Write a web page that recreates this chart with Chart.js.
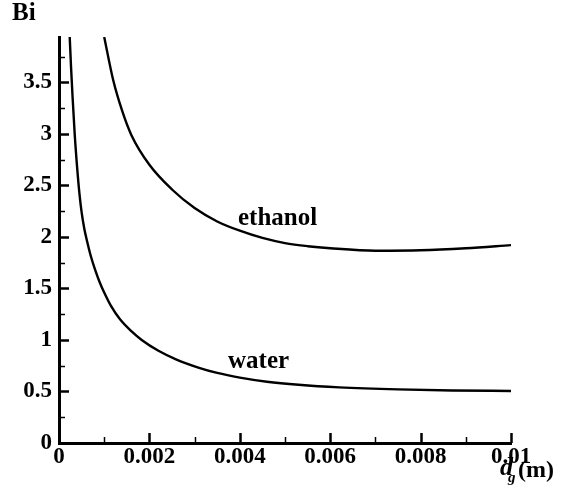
<!DOCTYPE html>
<html>
<head>
<meta charset="utf-8">
<script src="https://cdn.jsdelivr.net/npm/chart.js@4.4.1/dist/chart.umd.min.js"></script>
<style>
  html, body { margin: 0; padding: 0; background: #fff; }
  #wrap { width: 565px; height: 501px; }
</style>
</head>
<body>
<div id="wrap"><canvas id="biChart"></canvas></div>
<script>
// droplet diameter (m) vs Biot number
const waterDg = [0.000237, 0.000265, 0.00030, 0.000347, 0.00040, 0.00045, 0.00050, 0.00056, 0.00062, 0.00070,
                 0.00080, 0.00090, 0.00100, 0.00115, 0.00135, 0.00160, 0.00183, 0.0022, 0.0026, 0.0031,
                 0.0035, 0.0040, 0.0046, 0.0053, 0.0062, 0.0075, 0.0087, 0.0100];
const waterBi = [3.94, 3.66, 3.36, 3.0, 2.68, 2.43, 2.24, 2.08, 1.96, 1.82,
                 1.68, 1.56, 1.46, 1.33, 1.20, 1.085, 1.0, 0.895, 0.81, 0.73,
                 0.68, 0.635, 0.595, 0.565, 0.54, 0.52, 0.51, 0.505];

const ethanolDg = [0.00100, 0.00120, 0.00140, 0.00160, 0.00200, 0.00250, 0.00300, 0.00350, 0.00400, 0.00450,
                   0.00500, 0.00550, 0.00600, 0.00700, 0.00800, 0.00900, 0.01000];
const ethanolBi = [3.94, 3.52, 3.22, 2.99, 2.70, 2.46, 2.28, 2.15, 2.06, 1.99,
                   1.94, 1.91, 1.89, 1.866, 1.87, 1.89, 1.92];

const xTicks = [0, 0.002, 0.004, 0.006, 0.008, 0.01];
const xTickLabels = ['0', '0.002', '0.004', '0.006', '0.008', '0.01'];
const xMinor = [0.001, 0.003, 0.005, 0.007, 0.009];
const yTicks = [0, 0.5, 1, 1.5, 2, 2.5, 3, 3.5];
const yTickLabels = ['0', '0.5', '1', '1.5', '2', '2.5', '3', '3.5'];
const yMinor = [0.25, 0.75, 1.25, 1.75, 2.25, 2.75, 3.25, 3.75];

const FONT = 'Liberation Serif, Times New Roman, serif';

function toPoints(xs, ys) {
  return xs.map((x, i) => ({ x: x, y: ys[i] }));
}

// inward tick marks + annotations
const decorations = {
  id: 'decorations',
  afterDraw(chart) {
    const ctx = chart.ctx;
    const xs = chart.scales.x, ys = chart.scales.y;
    const area = chart.chartArea;
    ctx.save();
    ctx.strokeStyle = '#000';
    ctx.lineCap = 'butt';

    const tickX = (vals, len, w) => {
      ctx.lineWidth = w;
      vals.forEach(v => {
        const px = Math.round(xs.getPixelForValue(v)) + 0.5;
        ctx.beginPath();
        ctx.moveTo(px, area.bottom);
        ctx.lineTo(px, area.bottom - len);
        ctx.stroke();
      });
    };
    const tickY = (vals, len, w) => {
      ctx.lineWidth = w;
      vals.forEach(v => {
        const py = Math.round(ys.getPixelForValue(v)) + 0.5;
        ctx.beginPath();
        ctx.moveTo(area.left, py);
        ctx.lineTo(area.left + len, py);
        ctx.stroke();
      });
    };
    tickX(xTicks, 10, 2.5);
    tickX(xMinor, 6, 1.5);
    tickY(yTicks, 10, 2.5);
    tickY(yMinor, 6, 1.5);

    ctx.fillStyle = '#000';
    ctx.textBaseline = 'alphabetic';
    ctx.textAlign = 'left';
    ctx.font = 'bold 25px ' + FONT;
    ctx.fillText('Bi', 12, 20);
    ctx.fillText('ethanol', 238, 225);
    ctx.fillText('water', 228, 368);

    ctx.font = 'italic bold 26px ' + FONT;
    ctx.fillText('d', 500, 475);
    ctx.font = 'italic bold 15px ' + FONT;
    ctx.fillText('g', 508, 482);
    ctx.font = 'bold 24px ' + FONT;
    ctx.fillText('(m)', 518, 477);
    ctx.restore();
  }
};

new Chart(document.getElementById('biChart').getContext('2d'), {
  type: 'line',
  data: {
    datasets: [
      {
        label: 'water',
        data: toPoints(waterDg, waterBi),
        borderColor: '#000',
        borderWidth: 2.4,
        pointRadius: 0,
        fill: false,
        cubicInterpolationMode: 'monotone'
      },
      {
        label: 'ethanol',
        data: toPoints(ethanolDg, ethanolBi),
        borderColor: '#000',
        borderWidth: 2.4,
        pointRadius: 0,
        fill: false,
        cubicInterpolationMode: 'monotone'
      }
    ]
  },
  options: {
    responsive: true,
    maintainAspectRatio: false,
    animation: false,
    layout: { padding: { top: 37, right: 54, left: 0, bottom: 0 } },
    plugins: {
      legend: { display: false },
      tooltip: { enabled: false },
      title: { display: false }
    },
    scales: {
      x: {
        type: 'linear',
        min: 0,
        max: 0.01,
        afterFit(scale) { scale.height = 58; },
        afterBuildTicks(scale) { scale.ticks = xTicks.map(v => ({ value: v })); },
        grid: { display: false, drawTicks: false },
        border: { display: true, color: '#000', width: 3 },
        ticks: {
          color: '#000',
          padding: 0,
          maxRotation: 0,
          autoSkip: false,
          font: { family: FONT, size: 23, weight: 'bold' },
          callback: (v, i) => xTickLabels[i]
        }
      },
      y: {
        type: 'linear',
        min: 0,
        max: 3.94,
        afterFit(scale) { scale.width = 59; },
        afterBuildTicks(scale) { scale.ticks = yTicks.map(v => ({ value: v })); },
        grid: { display: false, drawTicks: false },
        border: { display: true, color: '#000', width: 3 },
        ticks: {
          color: '#000',
          padding: 7,
          autoSkip: false,
          font: { family: FONT, size: 23, weight: 'bold' },
          callback: (v, i) => yTickLabels[i]
        }
      }
    }
  },
  plugins: [decorations]
});
</script>
</body>
</html>
